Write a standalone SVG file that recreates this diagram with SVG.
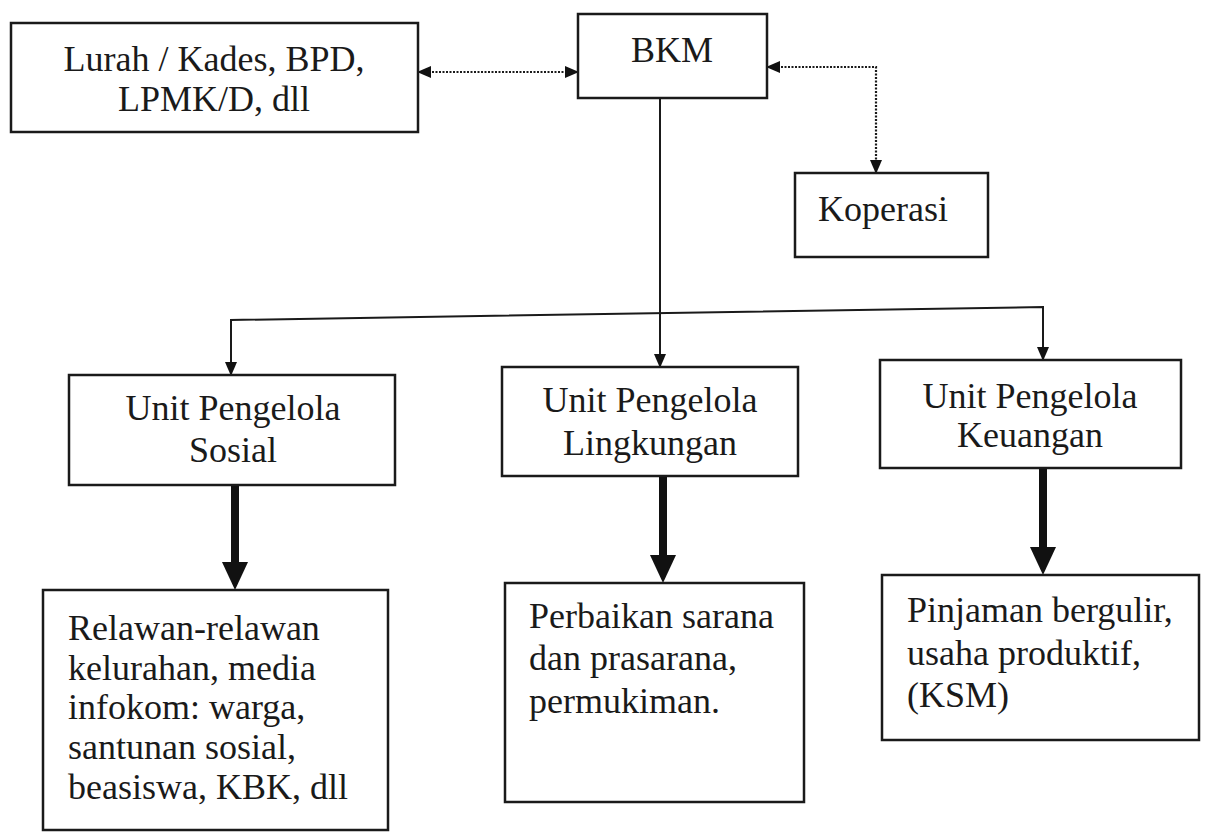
<svg xmlns="http://www.w3.org/2000/svg" width="1205" height="833" viewBox="0 0 1205 833">
<style>
.box{fill:#fff;stroke:#1a1a1a;stroke-width:2.5}
text{font-family:'Liberation Serif','DejaVu Serif',serif;font-size:36px;fill:#1a1a1a}
.c{text-anchor:middle}
.thin{fill:none;stroke:#1a1a1a;stroke-width:2}
.dot{fill:none;stroke:#1a1a1a;stroke-width:2.2;stroke-dasharray:2 1.5}
.thick{fill:none;stroke:#111;stroke-width:8}
</style>
<defs>
<marker id="ah" markerUnits="userSpaceOnUse" markerWidth="14" markerHeight="12" refX="13" refY="6" orient="auto-start-reverse">
<path d="M0,0 L14,6 L0,12 z" fill="#111"/>
</marker>
<marker id="bh" markerUnits="userSpaceOnUse" markerWidth="28" markerHeight="26" refX="6" refY="13" orient="auto">
<path d="M0,0 L28,13 L0,26 z" fill="#111"/>
</marker>
</defs>
<rect width="1205" height="833" fill="#fff"/>
<g id="connectors">
<line class="dot" x1="418" y1="72" x2="578" y2="72" marker-start="url(#ah)" marker-end="url(#ah)"/>
<path class="dot" d="M767,67 H876 V173" marker-start="url(#ah)" marker-end="url(#ah)"/>
<path class="thin" d="M660,98 V367" marker-end="url(#ah)"/>
<path class="thin" d="M231,375 V320 L1043,307 V360" marker-start="url(#ah)" marker-end="url(#ah)"/>
<line class="thick" x1="235" y1="485" x2="235" y2="568" marker-end="url(#bh)"/>
<line class="thick" x1="663" y1="476" x2="663" y2="561" marker-end="url(#bh)"/>
<line class="thick" x1="1043" y1="468" x2="1043" y2="553" marker-end="url(#bh)"/>
</g>
<g id="lurah" font-family="Liberation Serif, serif">
<rect class="box" x="11" y="23" width="407" height="109"/>
<text class="c" x="214" y="71">Lurah / Kades, BPD,</text>
<text class="c" x="214" y="111">LPMK/D, dll</text>
</g>
<g id="bkm">
<rect class="box" x="578" y="14" width="189" height="84"/>
<text class="c" x="672" y="62">BKM</text>
</g>
<g id="koperasi">
<rect class="box" x="795" y="173" width="193" height="84"/>
<text x="818" y="221">Koperasi</text>
</g>
<g id="sosial">
<rect class="box" x="69" y="375" width="326" height="110"/>
<text class="c" x="233" y="420">Unit Pengelola</text>
<text class="c" x="233" y="462">Sosial</text>
</g>
<g id="lingkungan">
<rect class="box" x="502" y="367" width="296" height="109"/>
<text class="c" x="650" y="412">Unit Pengelola</text>
<text class="c" x="650" y="455">Lingkungan</text>
</g>
<g id="keuangan">
<rect class="box" x="880" y="360" width="301" height="108"/>
<text class="c" x="1030" y="408">Unit Pengelola</text>
<text class="c" x="1030" y="447">Keuangan</text>
</g>
<g id="relawan">
<rect class="box" x="43" y="590" width="345" height="240"/>
<text x="68" y="640">Relawan-relawan</text>
<text x="68" y="680">kelurahan, media</text>
<text x="68" y="719">infokom: warga,</text>
<text x="68" y="759">santunan sosial,</text>
<text x="68" y="799">beasiswa, KBK, dll</text>
</g>
<g id="perbaikan">
<rect class="box" x="505" y="583" width="299" height="219"/>
<text x="529" y="628">Perbaikan sarana</text>
<text x="529" y="670">dan prasarana,</text>
<text x="529" y="713">permukiman.</text>
</g>
<g id="pinjaman">
<rect class="box" x="882" y="575" width="317" height="165"/>
<text x="907" y="622">Pinjaman bergulir,</text>
<text x="907" y="665">usaha produktif,</text>
<text x="907" y="707">(KSM)</text>
</g>
</svg>
